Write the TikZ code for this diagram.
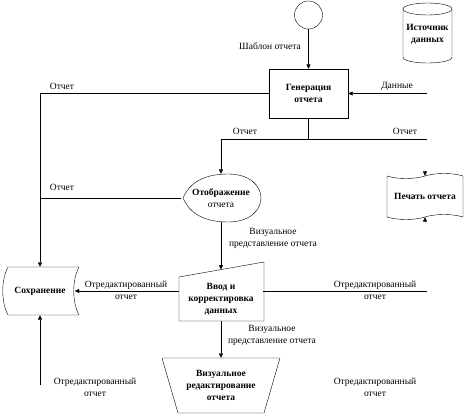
\documentclass[tikz,border=0pt]{standalone}
\usepackage{fontspec}
\setmainfont{Liberation Serif}
\usetikzlibrary{arrows.meta,shapes.symbols}

\begin{document}
\begin{tikzpicture}[x=1pt, y=-1pt,
  font=\fontsize{9.5}{12}\selectfont,
  flow/.style={-{Triangle[length=4.5pt,width=4pt]}},
  lbl/.style={align=center, inner sep=0pt},
  box/.style={align=center, inner sep=0pt, font=\fontsize{9.5}{12}\selectfont\bfseries}]

  \useasboundingbox (0,0) rectangle (469,417);

  % --- Define nodes ---
  \node[draw, circle, minimum size=28pt, inner sep=0pt] (tmpl) at (308.5,15) {};
  \node[box, minimum width=49pt, minimum height=60pt] (src) at (427.5,34) {Источник\\данных};
  \node[draw, box, minimum width=79pt, minimum height=49pt] (gen) at (308.5,93.5) {Генерация\\отчета};
  \node[lbl, minimum width=79pt, minimum height=48pt] (disp) at (221,198) {\textbf{Отображение}\\отчета};
  \node[draw, tape, box, minimum width=76pt, minimum height=46pt] (print) at (425,196.5) {Печать отчета};
  \node[box, minimum width=69pt, minimum height=48pt] (store) at (40,291) {Сохранение};
  \node[box, minimum width=84pt, minimum height=44pt] (input) at (221,299) {Ввод и\\корректировка\\данных};
  \node[box, minimum width=117pt, minimum height=55pt] (edit) at (221,385.5) {Визуальное\\редактирование\\отчета};

  % --- Shape outlines ---
  \draw (427.5,9) ellipse[x radius=24.5pt, y radius=6pt];
  \draw (403,9) -- (403,57) .. controls (403,65) and (452,65) .. (452,57) -- (452,9);
  \draw (183,198) .. controls (190,182) and (205,174) .. (228,174)
        .. controls (272,174) and (272,222) .. (228,222)
        .. controls (205,222) and (190,214) .. (183,198);
  \draw (179,277) -- (264,262) -- (264,321) -- (179,321) -- cycle;
  \draw (162,358) -- (280,358) -- (264,413) -- (178,413) -- cycle;
  \draw (8,267) -- (79,267) .. controls (72,280) and (72,302) .. (79,315)
        -- (8,315) .. controls (1,302) and (1,280) .. (8,267);

  % --- Free ends ---
  \coordinate (datain) at (427,93.5);
  \coordinate (split) at (308.5,139);
  \coordinate (outR) at (427,139);
  \coordinate (inputtop) at (221,269.5);
  \coordinate (outE) at (427,291);
  \coordinate (fromS) at (40,385);

  % --- Connectors ---
  \draw[flow] (tmpl) -- (gen);
  \draw[flow] (datain) -- (gen.east);
  \draw[flow] (gen.west) -| (store.north);
  \draw (gen.south) -- (split) -- (outR);
  \draw[flow] (split) -| (disp.north);
  \draw (disp.west) -- (disp.west -| store.north);
  \draw[flow] (disp.south) -- (inputtop);
  \draw[flow] ([yshift=8pt]input.west) -- (store.east);
  \draw ([yshift=8pt]input.east) -- (outE);
  \draw[flow] (input.south) -- (edit.north);
  \draw[flow] (fromS) -- (store.south);
  \draw[flow] ([yshift=3pt]print.north) -- (print.north);
  \draw[flow] ([yshift=-3pt]print.south) -- (print.south);

  % --- Labels ---
  \node[lbl] (ltmpl) at (270,46) {Шаблон отчета};
  \node[lbl] (ldata) at (397,86) {Данные};
  \node[lbl] (lrep1) at (62,86) {Отчет};
  \node[lbl] (lrep2) at (245,131) {Отчет};
  \node[lbl] (lrep3) at (405,131) {Отчет};
  \node[lbl] (lrep4) at (62,187) {Отчет};
  \node[lbl] (lvis1) at (273,238) {Визуальное\\представление отчета};
  \node[lbl] (lvis2) at (272,335) {Визуальное\\представление отчета};
  \node[lbl] (ledit1) at (126,290) {Отредактированный\\отчет};
  \node[lbl] (ledit2) at (375,290) {Отредактированный\\отчет};
  \node[lbl] (ledit3) at (95,387) {Отредактированный\\отчет};
  \node[lbl] (ledit4) at (375,387) {Отредактированный\\отчет};

\end{tikzpicture}
\end{document}
